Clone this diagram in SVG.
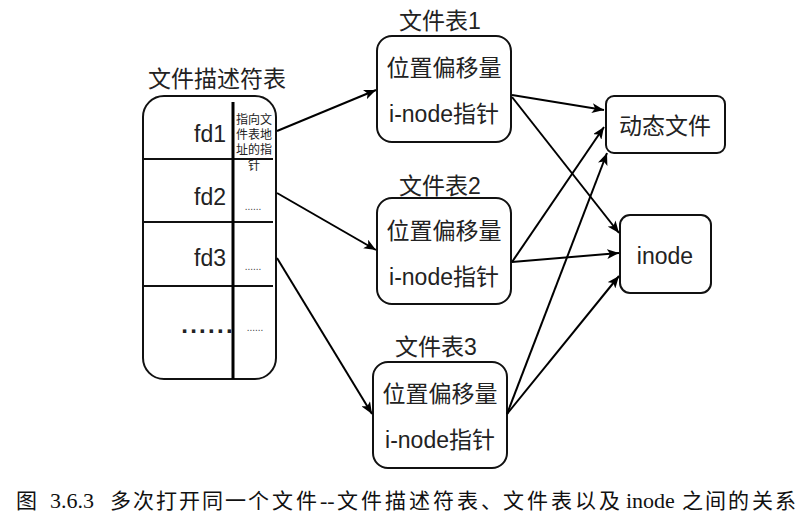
<svg xmlns="http://www.w3.org/2000/svg" width="811" height="518" viewBox="0 0 811 518">
<defs>
<marker id="arr" viewBox="0 0 12 10" refX="12" refY="5" markerWidth="12" markerHeight="10" markerUnits="userSpaceOnUse" orient="auto">
<path d="M0,0 L12,5 L0,10 L3,5 Z" fill="#000"/>
</marker>
</defs>
<style>
.t{font-family:"Liberation Sans","Noto Sans CJK SC",sans-serif;fill:#222;}
.b{font-size:23px;}
.box{fill:#fff;stroke:#111;stroke-width:2;}
.ln{stroke:#111;stroke-width:2;fill:none;}
.con{stroke:#000;stroke-width:2;fill:none;marker-end:url(#arr);}
.sm{font-size:12px;}
.dt{font-size:10px;fill:#444;}
.cap{font-family:"Liberation Serif","Noto Sans CJK SC",serif;font-size:21px;fill:#111;}
.lat{font-size:22px;}
</style>
<rect width="811" height="518" fill="#fff"/>

<g id="fd-table">
<text class="t b" x="217" y="87" text-anchor="middle">文件描述符表</text>
<rect class="box" x="143" y="96" width="133" height="283" rx="21" ry="21"/>
<line class="ln" x1="144" y1="159" x2="273" y2="159"/>
<line class="ln" x1="144" y1="222" x2="273" y2="222"/>
<line class="ln" x1="144" y1="286" x2="273" y2="286"/>
<line x1="233" y1="102" x2="233" y2="379" stroke="#000" stroke-width="3"/>
<text class="t b" x="226" y="142" text-anchor="end">fd1</text>
<text class="t b" x="226" y="205" text-anchor="end">fd2</text>
<text class="t b" x="226" y="266" text-anchor="end">fd3</text>
<text class="t" x="235" y="333" text-anchor="end" font-size="24" font-weight="bold" letter-spacing="2.3">......</text>
<g class="t sm" text-anchor="middle">
<text x="254" y="124">指向文</text>
<text x="254" y="139">件表地</text>
<text x="254" y="154">址的指</text>
<text x="254" y="170">针</text>
</g>
<text class="t dt" x="253" y="210" text-anchor="middle">......</text>
<text class="t dt" x="253" y="270" text-anchor="middle">......</text>
<text class="t dt" x="255" y="331" text-anchor="middle">......</text>
</g>

<g id="file-table-1">
<text class="t b" x="440" y="29" text-anchor="middle">文件表1</text>
<rect class="box" x="377" y="36" width="134" height="106" rx="15" ry="15"/>
<text class="t b" x="444" y="76" text-anchor="middle">位置偏移量</text>
<text class="t b" x="444" y="122" text-anchor="middle">i-node指针</text>
</g>

<g id="file-table-2">
<text class="t b" x="440" y="194" text-anchor="middle">文件表2</text>
<rect class="box" x="377" y="198" width="134" height="106" rx="15" ry="15"/>
<text class="t b" x="444" y="239" text-anchor="middle">位置偏移量</text>
<text class="t b" x="444" y="285" text-anchor="middle">i-node指针</text>
</g>

<g id="file-table-3">
<text class="t b" x="436" y="355" text-anchor="middle">文件表3</text>
<rect class="box" x="373" y="362" width="134" height="106" rx="15" ry="15"/>
<text class="t b" x="440" y="402" text-anchor="middle">位置偏移量</text>
<text class="t b" x="440" y="448" text-anchor="middle">i-node指针</text>
</g>

<g id="dynamic-file">
<rect class="box" x="606" y="96" width="119" height="57" rx="8" ry="8"/>
<text class="t b" x="665" y="134" text-anchor="middle">动态文件</text>
</g>

<g id="inode">
<rect class="box" x="620" y="215" width="91" height="78" rx="10" ry="10"/>
<text class="t b" x="665" y="264" text-anchor="middle">inode</text>
</g>

<g id="connectors">
<line class="con" x1="277" y1="131" x2="376" y2="90"/>
<line class="con" x1="277" y1="193" x2="376" y2="250"/>
<line class="con" x1="277" y1="258" x2="372" y2="414"/>
<line class="con" x1="512" y1="95" x2="604" y2="110"/>
<line class="con" x1="512" y1="97" x2="619" y2="233"/>
<line class="con" x1="512" y1="262" x2="604" y2="127"/>
<line class="con" x1="512" y1="262" x2="619" y2="253"/>
<line class="con" x1="507" y1="414" x2="607" y2="153"/>
<line class="con" x1="507" y1="414" x2="619" y2="276"/>
</g>

<text class="cap" y="508"><tspan x="16">图</tspan><tspan class="lat" x="50">3.6.3</tspan><tspan x="110 133 156 179 202 225 248 272 296">多次打开同一个文件</tspan><tspan class="lat" x="320">--</tspan><tspan x="337 361 385 409 433 457 481 503 527 551 575 599">文件描述符表、文件表以及</tspan><tspan class="lat" x="626">inode</tspan><tspan x="682 705 728 752 775">之间的关系</tspan></text>
</svg>
